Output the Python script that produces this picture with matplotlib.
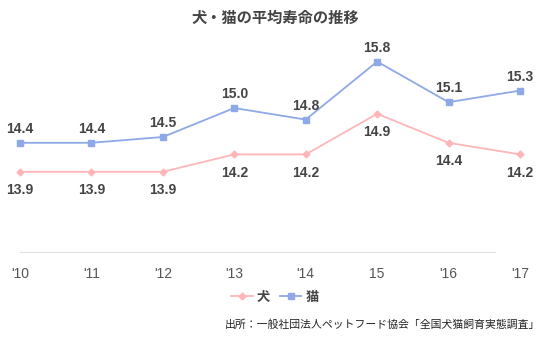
import matplotlib
matplotlib.use('Agg')
import matplotlib.pyplot as plt

plt.rcParams['font.family'] = ['Liberation Sans', 'Noto Sans CJK JP', 'DejaVu Sans']

# data
years = ["'10", "'11", "'12", "'13", "'14", "15", "'16", "'17"]
dog = [13.9, 13.9, 13.9, 14.2, 14.2, 14.9, 14.4, 14.2]
cat = [14.4, 14.4, 14.5, 15.0, 14.8, 15.8, 15.1, 15.3]

dog_color = '#ffb6b9'
cat_color = '#8ea8e8'
text_color = '#444444'

fig = plt.figure(figsize=(5.5, 3.45), dpi=100)
ax = fig.add_axes([20 / 550, (345 - 253) / 345, 500 / 550, 203 / 345])

x = range(len(years))
ax.plot(x, dog, color=dog_color, lw=1.3, marker='D', ms=3.5, label='犬', clip_on=False)
ax.plot(x, cat, color=cat_color, lw=1.3, marker='s', ms=5, label='猫', clip_on=False)

for i, v in enumerate(cat):
    ax.annotate(f'{v:.1f}', (i, v), xytext=(0, 5), textcoords='offset points',
                ha='center', va='bottom', fontsize=10, fontweight='bold', color=text_color)
for i, v in enumerate(dog):
    ax.annotate(f'{v:.1f}', (i, v), xytext=(0, -8), textcoords='offset points',
                ha='center', va='top', fontsize=10, fontweight='bold', color=text_color)

ax.set_xlim(0, 7)
ax.set_ylim(12.5, 16.0)
ax.axhline(12.5, xmin=0, xmax=475 / 500, color='#e0e0e0', lw=1.5)

for s in ax.spines.values():
    s.set_visible(False)
ax.set_yticks([])
ax.set_xticks(list(x))
ax.set_xticklabels(years, fontsize=10, color='#555555')
ax.tick_params(axis='x', length=0, pad=10)

fig.text(0.5, 1 - 18 / 345, '犬・猫の平均寿命の推移', ha='center', va='center',
         fontsize=11, fontweight='bold', color=text_color, family=['Noto Sans CJK JP'])

leg = fig.legend(loc='center', bbox_to_anchor=(0.5, 1 - 297 / 345), ncol=2, frameon=False,
                 handlelength=1.6, handletextpad=0.3, columnspacing=0.8,
                 prop={'family': 'Noto Sans CJK JP', 'weight': 'bold', 'size': 9.5})
for t in leg.get_texts():
    t.set_color(text_color)

fig.text(540 / 550, 1 - 325 / 345, '出所：一般社団法人ペットフード協会「全国犬猫飼育実態調査」',
         ha='right', va='center', fontsize=7.8, color='#222222', family=['Noto Sans CJK JP'])

fig.savefig('out.png', dpi=100)
